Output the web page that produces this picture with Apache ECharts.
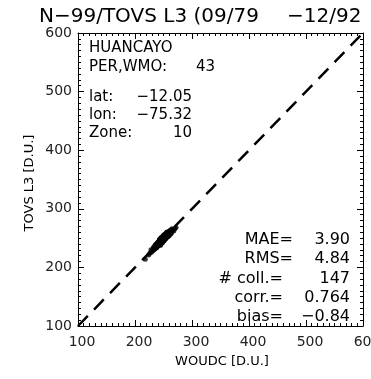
<!DOCTYPE html>
<html>
<head>
<meta charset="utf-8">
<script src="https://cdn.jsdelivr.net/npm/echarts@6/dist/echarts.min.js"></script>
<style>html,body{margin:0;padding:0;background:#fff}#c{width:371px;height:379px}</style>
</head>
<body>
<div id="c"></div>
<script>
// Data
var axisMin = 100, axisMax = 600, axisStep = 100;
var xTickValues = [100, 200, 300, 400, 500, 600];
var xTickLabels = ["100", "200", "300", "400", "500", "600"];
var diagonal = [[100, 100], [600, 600]];
var woudc = [
248,252,245,239,256,261,243,250,247,236,
258,264,241,249,253,232,246,255,260,238,
244,251,257,229,242,266,248,254,235,247,
250,259,243,239,262,226,245,252,248,256,
240,233,249,257,244,253,268,237,246,251,
242,258,248,231,255,263,245,250,238,247,
253,241,256,249,244,260,234,251,247,243,
257,239,252,270,246,249,236,254,242,258,
224,248,245,255,250,240,261,243,252,237,
247,256,244,249,265,233,251,246,258,241,
253,248,238,257,244,250,228,254,247,262,
242,249,255,236,251,245,259,240,248,253,
243,257,246,250,239,267,252,244,248,235,
256,241,249,254,245,260,238,251,247,243,
255,249,272,246,240,252,218
];
var tovs = [
246,253,238,240,252,262,247,245,251,233,
256,259,242,253,249,233,241,259,254,239,
249,246,258,226,240,263,252,251,238,242,
254,255,238,241,264,224,249,248,242,260,
237,235,245,252,248,255,262,233,251,249,
243,261,243,228,257,257,240,255,236,250,
249,238,260,247,240,261,231,254,244,247,
254,235,256,266,243,253,238,249,244,257,
221,252,243,251,248,243,258,240,250,240,
242,255,248,245,266,230,255,244,253,240,
257,246,234,259,242,246,230,251,251,259,
239,251,253,235,246,249,260,238,245,255,
245,253,248,252,237,265,248,246,251,232,
254,244,246,257,241,258,240,247,249,240,
252,252,268,243,241,254,214
];
var titleLeft = "N\u221299/TOVS L3 (09/79";
var titleRight = "\u221212/92";
var infoLabels = ["HUANCAYO", "PER,WMO:", "lat:", "lon:", "Zone:"];
var infoValues = ["", "43", "\u221212.05", "\u221275.32", "10"];
var statLabels = ["MAE=", "RMS=", "# coll.=", "corr.=", "bias="];
var statValues = ["3.90", "4.84", "147", "0.764", "\u22120.84"];
var xName = "WOUDC [D.U.]";
var yName = "TOVS L3 [D.U.]";

var points = woudc.map(function (v, i) { return [v, tovs[i]]; });
var FF = '"DejaVu Sans", sans-serif';

function axisCommon(show) {
  return {
    type: 'value', min: axisMin, max: axisMax, interval: axisStep,
    axisLine: { show: true, onZero: false, lineStyle: { color: '#000', width: 1 } },
    axisTick: { show: true, inside: true, length: 6, lineStyle: { color: '#000' } },
    minorTick: { show: true, splitNumber: 10, length: 3, lineStyle: { color: '#000' } },
    splitLine: { show: false },
    axisLabel: { show: show, color: '#222', fontSize: 14, fontFamily: 'DejaVu Sans' }
  };
}

var xa0 = axisCommon(false); xa0.position = 'bottom';
var xa1 = axisCommon(false); xa1.position = 'top';
var ya0 = axisCommon(true); ya0.position = 'left'; ya0.axisLabel.margin = 6;
ya0.axisLabel.padding = [8, 0, 0, 0];
var ya1 = axisCommon(false); ya1.position = 'right';

var graphics = [];
function txt(x, y, s, size, align, color) {
  graphics.push({ type: 'text', x: x, y: y, silent: true,
    style: { text: s, fill: color || '#000', font: size + 'px ' + FF, align: align || 'left', verticalAlign: 'middle' } });
}
txt(39, 17, titleLeft, 20);
txt(287, 17, titleRight, 20);
var infoY = [48, 67, 97, 115, 133];
var infoRight = [0, 215, 192, 192, 192];
infoLabels.forEach(function (s, i) {
  txt(89, infoY[i], s, 15);
  if (infoValues[i]) txt(infoRight[i], infoY[i], infoValues[i], 15, 'right');
});
var statY = [240, 259, 279, 298, 317];
var statRight = [293, 293, 283, 283, 283];
statLabels.forEach(function (s, i) {
  txt(statRight[i], statY[i], s, 16, 'right');
  txt(350, statY[i], statValues[i], 16, 'right');
});
txt(222, 362, xName, 13, 'center');
graphics.push({ type: 'text', x: 30, y: 183, rotation: Math.PI / 2, silent: true,
  style: { text: yName, fill: '#000', font: '13px ' + FF, align: 'center', verticalAlign: 'middle' } });

var chart = echarts.init(document.getElementById('c'), null, { renderer: 'canvas' });
var option = {
  animation: false,
  backgroundColor: '#fff',
  grid: { left: 78, top: 33, right: 8, bottom: 53, containLabel: false },
  xAxis: [xa0, xa1],
  yAxis: [ya0, ya1],
  series: [
    { type: 'line', xAxisIndex: 0, yAxisIndex: 0, data: diagonal, symbol: 'none', z: 1,
      lineStyle: { color: '#000', width: 2.5, type: [14, 9] } },
    { type: 'scatter', xAxisIndex: 0, yAxisIndex: 0, data: points, symbol: 'circle', symbolSize: 5, z: 2,
      itemStyle: { color: '#000' } }
  ],
  graphic: graphics
};
chart.setOption(option);
// x tick labels placed through the x axis scale
var yBase = chart.convertToPixel({ yAxisIndex: 0 }, axisMin);
xTickValues.forEach(function (v, i) {
  var px = chart.convertToPixel({ xAxisIndex: 0 }, v);
  txt(px + 4, yBase + 16, xTickLabels[i], 14, 'center', '#222');
});
chart.setOption({ graphic: graphics });
</script>
</body>
</html>
